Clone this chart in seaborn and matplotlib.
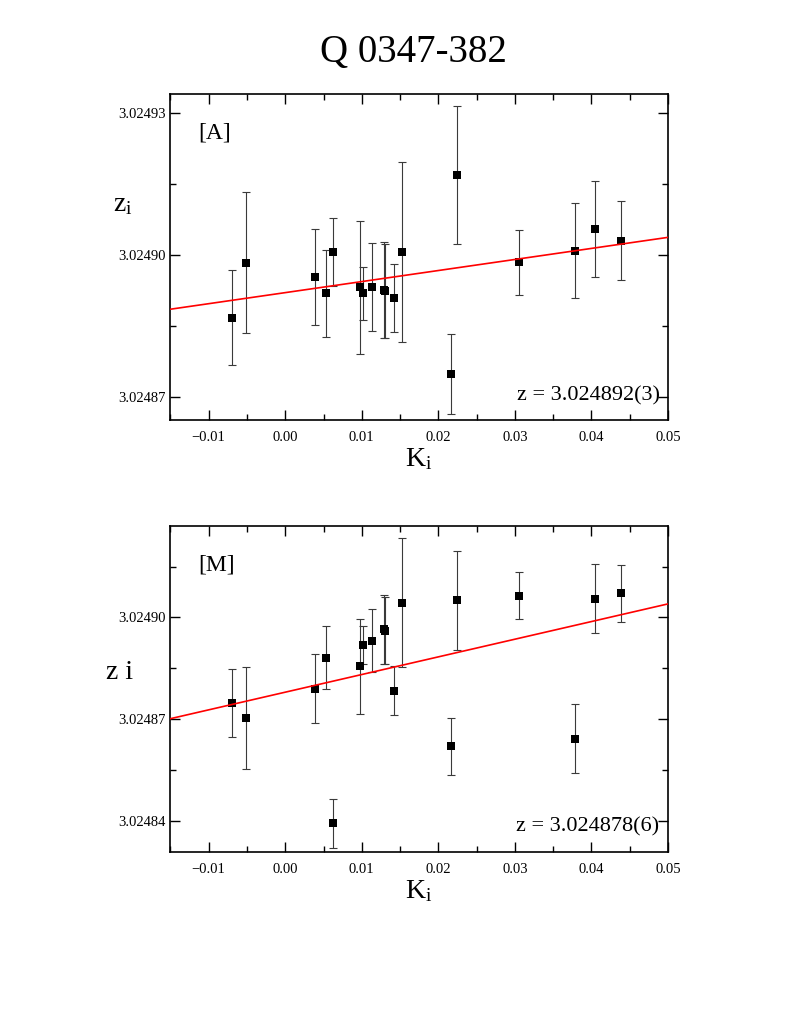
import numpy as np
import matplotlib
matplotlib.use("Agg")
import matplotlib.pyplot as plt
import seaborn as sns
import pandas as pd
from matplotlib.ticker import FuncFormatter, MultipleLocator, FixedLocator

# K_i values shared by both panels
k_vals = [-0.0070, -0.0051, 0.0039, 0.0053, 0.0062, 0.0098, 0.0102, 0.0113, 0.0129,
          0.0130, 0.0142, 0.0153, 0.0217, 0.0225, 0.0305, 0.0379, 0.0404, 0.0438]
sigma = [1.0e-5, 1.49e-5, 1.02e-5, 9.2e-6, 7.2e-6, 1.40e-5, 5.6e-6, 9.4e-6, 1.01e-5,
         9.9e-6, 7.2e-6, 1.9e-5, 8.4e-6, 1.46e-5, 6.9e-6, 1.01e-5, 1.02e-5, 8.3e-6]

z_A = [3.0248867, 3.0248983, 3.0248953, 3.0248919, 3.0249006, 3.0248931, 3.0248919,
       3.0248932, 3.0248926, 3.0248923, 3.0248909, 3.0249006, 3.0248748, 3.0249169,
       3.0248984, 3.0249009, 3.0249055, 3.0249030]
z_M = [3.0248749, 3.0248704, 3.0248790, 3.0248882, 3.0248394, 3.0248856, 3.0248918,
       3.0248932, 3.0248965, 3.0248961, 3.0248784, 3.0249044, 3.0248621, 3.0249051,
       3.0249064, 3.0248643, 3.0249055, 3.0249071]

# fitted lines: z = z0 + slope * K
fit_A = (3.024892, 2.34e-4)
fit_M = (3.024878, 5.2e-4)

yticks_A = [3.02487, 3.02490, 3.02493]
yticks_M = [3.02484, 3.02487, 3.02490]

sns.set_style("ticks")
plt.rcParams["font.family"] = ["Liberation Serif", "DejaVu Serif"]
plt.rcParams["mathtext.fontset"] = "stix"
for key in ["text.color", "axes.labelcolor", "xtick.color", "ytick.color", "axes.edgecolor"]:
    plt.rcParams[key] = "black"

fig = plt.figure(figsize=(8, 10.35), dpi=100)
ax1 = fig.add_axes([0.213, 0.594, 0.622, 0.315])
ax2 = fig.add_axes([0.213, 0.177, 0.622, 0.315])

fig.text(0.517, 0.949, "Q 0347-382", ha="center", va="center", fontsize=28)


def minus_fmt(v, pos):
    return f"{v:.2f}".replace("-", "\u2212")


def draw_panel(ax, z, fit, yticks, ylim, tag, ztext, ylab, ylab_y):
    df = pd.DataFrame({"K": k_vals, "z": z, "err": sigma})
    ax.errorbar(df["K"], df["z"], yerr=df["err"], fmt="none", ecolor="#3a3a3a",
                elinewidth=0.8, capsize=3, capthick=0.8, zorder=2)
    sns.scatterplot(data=df, x="K", y="z", marker="s", color="black", s=32,
                    edgecolor="black", linewidth=0, ax=ax, zorder=3)
    xs = np.array([-0.015, 0.05])
    ax.plot(xs, fit[0] + fit[1] * xs, color="red", lw=1.2, zorder=4)

    ax.set_xlim(-0.015, 0.05)
    ax.set_ylim(*ylim)
    ax.xaxis.set_major_locator(MultipleLocator(0.01))
    ax.xaxis.set_minor_locator(MultipleLocator(0.005))
    ax.xaxis.set_major_formatter(FuncFormatter(minus_fmt))
    ax.yaxis.set_major_locator(FixedLocator(yticks))
    ax.yaxis.set_minor_locator(MultipleLocator(1.5e-5))
    ax.yaxis.set_major_formatter(FuncFormatter(lambda v, p: f"{v:.5f}"))
    ax.tick_params(which="both", direction="in", top=True, right=True, width=1)
    ax.tick_params(which="major", length=7, labelsize=10.5)
    ax.tick_params(which="minor", length=4)
    ax.tick_params(axis="x", pad=8)
    for s in ax.spines.values():
        s.set_linewidth(1.2)

    ax.set_xlabel(r"K$_\mathregular{i}$", fontsize=20, labelpad=2)
    ax.set_ylabel("")
    ax.text(-0.075, ylab_y, ylab, transform=ax.transAxes, fontsize=20,
            ha="right", va="center")
    ax.text(0.056, 0.88, tag, transform=ax.transAxes, fontsize=17, va="center")
    ax.text(0.983, 0.075, ztext, transform=ax.transAxes, fontsize=16,
            ha="right", va="center")


draw_panel(ax1, z_A, fit_A, yticks_A, (3.024865, 3.024934), "[A]",
           "z = 3.024892(3)", r"z$_\mathregular{i}$", 0.66)
draw_panel(ax2, z_M, fit_M, yticks_M, (3.024831, 3.024927), "[M]",
           "z = 3.024878(6)", "z i", 0.55)

fig.savefig("out.png", dpi=100)
